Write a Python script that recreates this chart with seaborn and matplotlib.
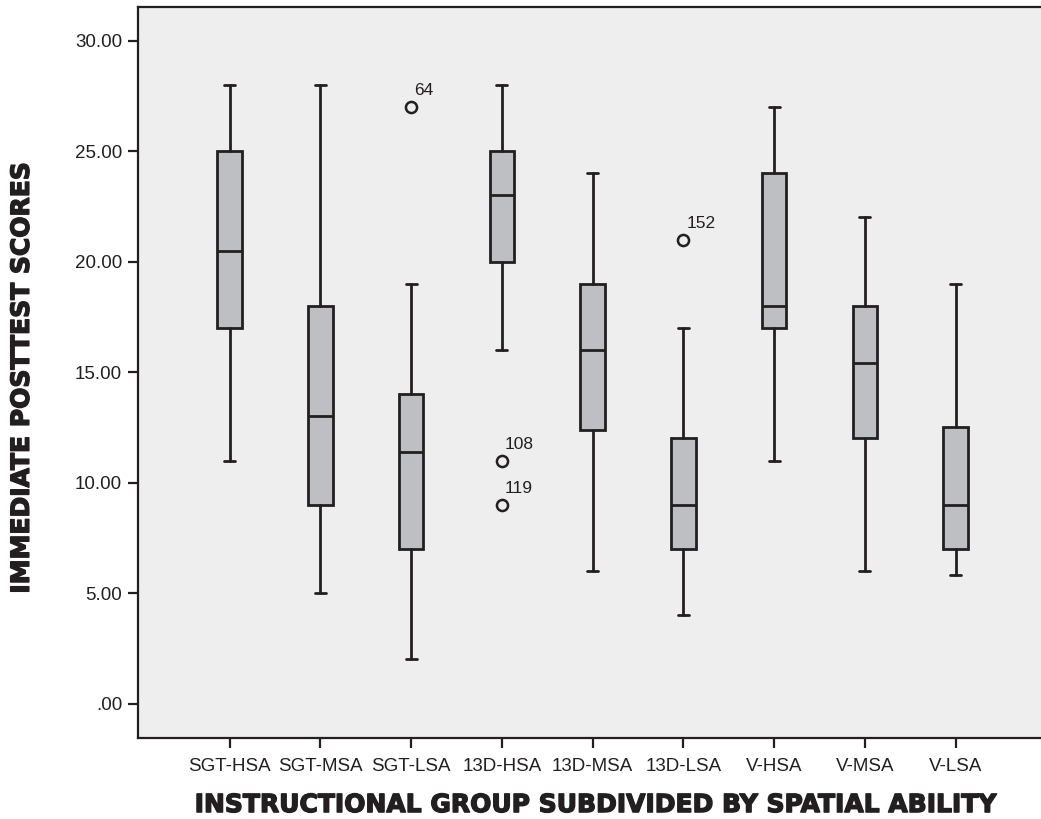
# Boxplot: puntuaciones postest inmediato por grupo y habilidad espacial

import matplotlib
matplotlib.use("Agg")
import matplotlib.pyplot as plt
import matplotlib.patheffects as pe
import seaborn as sns

# Datos (estadisticos de cada caja)
grupos = ["SGT-HSA", "SGT-MSA", "SGT-LSA", "13D-HSA", "13D-MSA",
          "13D-LSA", "V-HSA", "V-MSA", "V-LSA"]
bigote_inf = [11.0, 5.0, 2.0, 16.0, 6.0, 4.0, 11.0, 6.0, 5.8]
q1 = [17.0, 9.0, 7.0, 20.0, 12.4, 7.0, 17.0, 12.0, 7.0]
mediana = [20.5, 13.0, 11.4, 23.0, 16.0, 9.0, 18.0, 15.4, 9.0]
q3 = [25.0, 18.0, 14.0, 25.0, 19.0, 12.0, 24.0, 18.0, 12.5]
bigote_sup = [28.0, 28.0, 19.0, 28.0, 24.0, 17.0, 27.0, 22.0, 19.0]

# Valores atipicos: (indice de grupo, valor, etiqueta de caso)
atipicos_grupo = [2, 3, 3, 5]
atipicos_valor = [27.0, 11.0, 9.0, 21.0]
atipicos_caso = ["64", "108", "119", "152"]

yticks = [0, 5, 10, 15, 20, 25, 30]
yticklabels = [".00", "5.00", "10.00", "15.00", "20.00", "25.00", "30.00"]

sns.set_theme(style="white", rc={
    "axes.facecolor": "#eeeeee",
    "axes.edgecolor": "#231f20",
    "axes.linewidth": 1.6,
})
plt.rcParams["font.family"] = ["Liberation Sans", "DejaVu Sans"]

fig = plt.figure(figsize=(10.41, 8.19), dpi=100)
ax = fig.add_axes([0.1326, 0.0993, 0.8674, 0.8918])

stats = []
for i, g in enumerate(grupos):
    fliers = [v for gi, v in zip(atipicos_grupo, atipicos_valor) if gi == i]
    stats.append({
        "label": g,
        "whislo": bigote_inf[i],
        "q1": q1[i],
        "med": mediana[i],
        "q3": q3[i],
        "whishi": bigote_sup[i],
        "fliers": fliers,
    })

oscuro = "#231f20"
ax.bxp(
    stats,
    positions=list(range(len(grupos))),
    widths=0.27,
    patch_artist=True,
    showfliers=True,
    boxprops=dict(facecolor="#bebfc3", edgecolor=oscuro, linewidth=2.0),
    medianprops=dict(color=oscuro, linewidth=2.0),
    whiskerprops=dict(color=oscuro, linewidth=2.0),
    capprops=dict(color=oscuro, linewidth=2.0),
    capwidths=0.12,
    flierprops=dict(marker="o", markersize=8, markerfacecolor="none",
                    markeredgecolor=oscuro, markeredgewidth=1.8),
)

# etiquetas de caso junto a cada atipico
for gi, v, caso in zip(atipicos_grupo, atipicos_valor, atipicos_caso):
    ax.annotate(caso, (gi, v), xytext=(2, 8.5), textcoords="offset points",
                ha="left", va="baseline", fontsize=12.5, color=oscuro)

ax.set_xlim(-1.01, 8.94)
ax.set_ylim(-1.54, 31.51)
ax.set_xticks(range(len(grupos)))
ax.set_xticklabels(grupos, fontsize=13.5, color=oscuro)
ax.set_yticks(yticks)
ax.set_yticklabels(yticklabels, fontsize=13.5, color=oscuro)
ax.tick_params(axis="both", length=7.5, width=1.6, color=oscuro,
               direction="out", bottom=True, left=True)
ax.tick_params(axis="x", pad=7)
ax.tick_params(axis="y", pad=4)
ax.spines["right"].set_visible(False)

grueso = [pe.withStroke(linewidth=1.0, foreground=oscuro)]
fig.text(0.5716, 0.017, "INSTRUCTIONAL GROUP SUBDIVIDED BY SPATIAL ABILITY",
         ha="center", va="center", fontsize=18, fontweight="bold",
         family=["DejaVu Sans"], color=oscuro, path_effects=grueso)
fig.text(0.021, 0.538, "IMMEDIATE POSTTEST SCORES", rotation=90,
         ha="center", va="center", fontsize=18, fontweight="bold",
         family=["DejaVu Sans"], color=oscuro, path_effects=grueso)

fig.savefig("out.png", dpi=100, facecolor="white")
